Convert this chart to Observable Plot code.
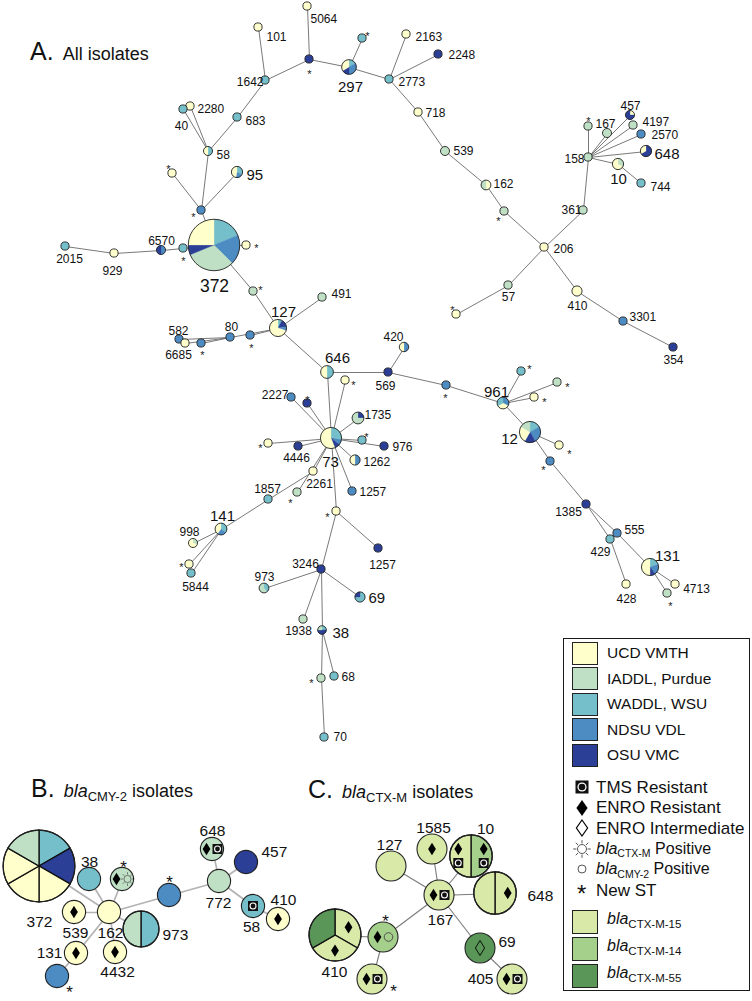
<!DOCTYPE html>
<html><head><meta charset="utf-8">
<script src="https://cdn.jsdelivr.net/npm/d3@7"></script>
<script src="https://cdn.jsdelivr.net/npm/@observablehq/plot@0.6"></script>
<style>
body{margin:0;background:#fff;font-family:"Liberation Sans",Arial,sans-serif;color:#111}
#wrap{position:relative;width:752px;height:1001px;overflow:hidden}
#wrap svg{position:absolute;left:0;top:0}
.abs{position:absolute;white-space:nowrap;line-height:1}
.sub{font-size:0.7em;position:relative;top:0.32em;font-style:normal}
</style></head>
<body><div id="wrap"></div>
<script>
// ---------- palette / categories ----------
const siteKeys = ["U","I","W","N","O"];
const siteNames = ["UCD VMTH","IADDL, Purdue","WADDL, WSU","NDSU VDL","OSU VMC"];
const siteColors = ["#ffffcc","#bfe0c4","#74bfc9","#4d8bc3","#2c3f97"];
const ctxKeys = ["C15","C14","C55"];
const ctxNames = ["CTX-M-15","CTX-M-14","CTX-M-55"];
const ctxColors = ["#d8e9a8","#a5d08b","#5b9659"];
const symbolNames = [["T","TMS Resistant"],["D","ENRO Resistant"],["I","ENRO Intermediate"],["S","CTX-M"],["C","CMY-2"],["*","New ST"]];

// ---------- panel A : all isolates  [id, x, y, size, slices(clockwise from top)] ----------
const nodesA = [
 ["5064",307,6,1,"U"],["101",258,27,1,"U"],["a1",309,59,1,"O"],["1642",265,80,1,"W"],
 ["297",349,67,3,"W*0.5 N*1 O*0.5 U*1"],["t1",362,38,1,"W"],["2773",389,79,1,"W"],
 ["2163",406,34,1,"U"],["2248",438,54,1,"O"],["718",418,112,1,"U"],["539",445,151,1.2,"I"],
 ["162",486,185,1.4,"U*1 I*1"],["g1",504,211,1,"I"],["206",544,247,1,"U"],["361",583,210,1,"I"],
 ["158",588,157,1,"I"],["g2",588,126,1,"I"],["167",607,133,1.2,"I"],["457",630,115,1.2,"U*1 O*3"],
 ["4197",633,125,1,"I"],["2570",641,134,1,"N"],["648",646,151,1.8,"O*2 U*1"],["10",618,164,1.8,"I*1 U*2"],
 ["744",641,183,1,"W"],["57",508,285,1,"I"],["c1",456,314,1,"U"],["410",577,291,1.5,"U"],
 ["3301",623,321,1,"N"],["354",673,347,1,"O"],["2280",190,106,1,"U"],["40",183,109,1,"W"],
 ["683",237,117,1,"W"],["58",208,151,1.2,"W*1 U*1"],["c2",172,173,1,"U"],["95",237,172,1.8,"W*1 N*0.6 U*1.4"],
 ["n1",201,210,1,"N"],["372",214,245,32,"W*6 N*6 I*10 O*2 U*8"],["c3",246,245,1,"U"],["t2",183,248,1,"W"],
 ["6570",161,250,1.2,"N*1 O*1"],["929",114,253,1,"U"],["2015",65,246,1,"W"],["g3",253,291,1,"I"],
 ["491",322,297,1,"I"],["127",278,328,4,"W*0.3 O*0.6 N*0.3 U*2.8"],["582",179,339,1,"N"],["6685",185,343,1,"U"],
 ["n2",201,343,1,"N"],["80",230,337,1,"N"],["n3",250,335,1,"N"],["646",327,372,2.3,"W*1 U*1"],
 ["c4",345,380,1,"U"],["420",404,347,1.3,"N*1 U*1"],["569",388,372,1,"O"],["n4",446,385,1,"N"],
 ["961",503,403,2,"N*1 U*1 W*1"],["t3",521,371,1,"W"],["g4",557,382,1,"I"],["c5",534,397,1,"U"],
 ["12",530,432,6,"W*1 N*1.5 O*1 U*1.5 I*1"],["c6",559,445,1,"U"],["n5",550,461,1,"N"],["1385",586,504,1,"O"],
 ["555",617,533,1,"N"],["429",610,539,1,"W"],["131",650,567,4,"W*0.6 N*0.6 O*0.3 U*1.5"],["428",626,584,1,"U"],
 ["4713",675,584,1,"U"],["g5",667,593,1,"I"],["2227",291,397,1,"N"],["d2",307,403,1,"O"],
 ["1735",358,418,2,"O*1 I*3"],["73",331,438,6,"W*1.4 N*0.4 O*0.4 U*2.8"],["t4",362,440,1,"W"],["976",384,446,1,"O"],
 ["c7",268,443,1,"U"],["4446",298,446,1,"O"],["1262",355,460,1.5,"N*1 U*1"],["2261",313,471,1,"U"],
 ["g6",297,492,1,"I"],["1257a",352,491,1,"N"],["1857",268,499,1,"W"],["c8",336,511,1,"U"],
 ["1257b",378,548,1,"O"],["141",221,529,2,"W*0.7 N*0.5 U*0.8"],["998",193,543,1.2,"I*0.3 U*0.7"],["c9",189,564,1,"U"],
 ["5844",191,573,1,"W"],["3246",321,569,1,"O"],["973",264,588,1.4,"W*0.4 I*0.6"],["69",360,597,1.5,"W*3 O*1"],
 ["1938",303,619,1,"I"],["38",322,630,1.1,"W*1 O*2 I*1"],["g7",321,678,1,"I"],["68",334,676,1,"W"],["70",324,737,1,"W"]
];
const edgesA = [
 ["5064","a1"],["a1","1642"],["a1","297"],["101","1642"],["1642","683"],["683","58"],["297","t1"],["297","2773"],
 ["2773","2163"],["2773","2248"],["2773","718"],["718","539"],["539","162"],["162","g1"],["g1","206"],["206","361"],
 ["361","158"],["158","g2"],["158","167"],["158","457"],["158","4197"],["158","2570"],["158","648"],["158","10"],
 ["10","744"],["206","57"],["57","c1"],["206","410"],["410","3301"],["3301","354"],["58","2280"],["58","40"],
 ["58","n1"],["n1","c2"],["n1","95"],["n1","372"],["372","c3"],["372","t2"],["t2","6570"],["6570","929"],
 ["929","2015"],["372","g3"],["g3","127"],["127","491"],["127","n3"],["127","80"],["80","582"],["80","6685"],
 ["80","n2"],["127","646"],["646","569"],["569","420"],["569","n4"],["n4","961"],["961","t3"],["961","g4"],
 ["961","c5"],["961","12"],["12","c6"],["12","n5"],["n5","1385"],["1385","555"],["1385","429"],["555","131"],
 ["429","428"],["131","4713"],["131","g5"],["646","73"],["73","c4"],["73","2227"],["73","d2"],["73","1735"],
 ["73","t4"],["73","976"],["73","c7"],["73","4446"],["73","1262"],["73","2261"],["73","g6"],["73","1257a"],
 ["73","c8"],["2261","1857"],["1857","141"],["141","998"],["141","c9"],["141","5844"],["c8","1257b"],["c8","3246"],
 ["3246","973"],["3246","69"],["3246","1938"],["3246","38"],["38","g7"],["38","68"],["g7","70"]
];
// [text, x, y, anchor, size class]
const labelsA = [
 ["5064",310,19,"start","s"],["101",266,37,"start","s"],["1642",263,82,"end","s"],["297",350,87,"middle","b"],
 ["2163",415,37,"start","s"],["2248",448,55,"start","s"],["2773",398,82,"start","s"],["718",425,113,"start","s"],
 ["539",453,151,"start","s"],["162",493,184,"start","s"],["206",553,249,"start","s"],["361",581,210,"end","s"],
 ["158",584,159,"end","s"],["167",605,124,"middle","s"],["457",630,106,"middle","s"],["4197",642,122,"start","s"],
 ["2570",651,135,"start","s"],["648",654,154,"start","b"],["10",618,179,"middle","b"],["744",650,187,"start","s"],
 ["57",508,297,"middle","s"],["410",577,306,"middle","s"],["3301",629,317,"start","s"],["354",673,360,"middle","s"],
 ["2280",197,109,"start","s"],["40",181,126,"middle","s"],["683",245,121,"start","s"],["58",216,155,"start","s"],
 ["95",246,175,"start","b"],["372",214,286,"middle","xl"],["6570",161,241,"middle","s"],["929",112,271,"middle","s"],
 ["2015",69,259,"middle","s"],["491",331,294,"start","s"],["127",283,312,"middle","b"],["582",178,331,"middle","s"],
 ["6685",178,355,"middle","s"],["80",231,327,"middle","s"],["646",337,358,"middle","b"],["420",393,337,"middle","s"],
 ["569",385,386,"middle","s"],["961",496,392,"middle","b"],["12",509,439,"middle","b"],["1385",568,512,"middle","s"],
 ["555",634,530,"middle","s"],["429",600,552,"middle","s"],["131",667,556,"middle","b"],["428",626,599,"middle","s"],
 ["4713",696,589,"middle","s"],["976",392,447,"start","s"],["2227",288,395,"end","s"],["1735",364,415,"start","s"],
 ["73",330,462,"middle","b"],["4446",296,458,"middle","s"],["1262",363,462,"start","s"],["2261",319,484,"middle","s"],
 ["1257",359,492,"start","s"],["1857",267,489,"middle","s"],["141",222,516,"middle","b"],["998",189,532,"middle","s"],
 ["5844",195,587,"middle","s"],["3246",305,564,"middle","s"],["973",264,577,"middle","s"],["1257",382,565,"middle","s"],
 ["69",368,598,"start","b"],["1938",298,631,"middle","s"],["38",332,633,"start","b"],["68",341,677,"start","s"],
 ["70",333,737,"start","s"]
];
const starsA = [[309,71],[367,33],[168,166],[193,214],[256,245],[183,258],[260,287],[202,352],[251,345],[498,218],
 [588,118],[452,307],[353,382],[307,397],[366,434],[260,445],[290,500],[327,514],[181,564],[311,680],[445,395],
 [529,366],[567,384],[544,399],[569,451],[543,467],[670,603]];

// ---------- panel B : blaCMY-2 isolates (slice "key*w:symbols") ----------
const nodesB = [
 ["372",39,866,6,"W O U U U I"],["38",89,879,1,"W"],["bs",122,879,1,"I:DS"],["162",109,912,1,"U"],
 ["539",74,912,1,"U:D"],["973",141,929,2,"W I"],["131",76,953,1,"U:D"],["4432",115,952,1,"U:D"],
 ["bn1",57,976,1,"N"],["bn2",169,895,1,"N"],["772",219,881,1,"I"],["648",212,849,1,"I:DT"],
 ["457",246,862,1,"O"],["58",253,906,1,"W:T"],["410",278,919,1,"U:D"]
];
const edgesB = [["372","162"],["38","162"],["bs","162"],["539","162"],["973","162"],["4432","162"],["131","162"],
 ["131","bn1"],["162","bn2"],["bn2","772"],["772","648"],["772","457"],["772","58"],["58","410"]];
const labelsB = [["372",39,922,"middle"],["38",89,862,"middle"],["162",110,933,"middle"],["539",75,933,"middle"],
 ["973",162,935,"start"],["131",62,953,"end"],["4432",117,972,"middle"],["772",218,903,"middle"],["648",212,831,"middle"],
 ["457",261,852,"start"],["58",251,927,"middle"],["410",283,900,"middle"]];
const starsB = [[123,863],[169,878],[69,988]];

// ---------- panel C : blaCTX-M isolates ----------
const nodesC = [
 ["127",391,866,1,"C15"],["1585",432,849,1,"C15:D"],["10",471,856,2,"C14:DT C15:DT"],["167",439,895,1,"C15:DT"],
 ["648",495,893,2,"C15:D C15"],["410",335,935,3,"C15:D C15:D C55"],["cs",383,937,1,"C14:DC"],
 ["cb",372,979,1,"C15:DT"],["69",480,948,1,"C55:I"],["405",512,979,1,"C15:DT"]
];
const edgesC = [["127","167"],["1585","167"],["10","167"],["648","167"],["167","cs"],["cs","cb"],["167","69"],["69","405"],["410","cs"]];
const labelsC = [["127",389,845,"middle"],["1585",433,828,"middle"],["10",485,829,"middle"],["167",440,920,"middle"],
 ["648",527,896,"start"],["410",334,972,"middle"],["69",498,942,"start"],["405",493,979,"end"]];
const starsC = [[385,917],[393,987]];

// ---------- helpers ----------
const COLOR = {};
siteKeys.forEach((k,i)=>COLOR[k]=siteColors[i]);
ctxKeys.forEach((k,i)=>COLOR[k]=ctxColors[i]);
const parseSlices = s => s.split(" ").map(tok => {
  const [kw, sym=""] = tok.split(":"); const [key, w="1"] = kw.split("*");
  return {key, w:+w, sym};
});
function drawSym(g, ch){
  if (ch==="D") g.append("path").attr("d","M0,-6.2L3.9,0L0,6.2L-3.9,0Z").attr("fill","#000");
  else if (ch==="I") g.append("path").attr("d","M0,-7.5L4.6,0L0,7.5L-4.6,0Z").attr("fill","none").attr("stroke","#000").attr("stroke-width",0.9);
  else if (ch==="T"){ g.append("rect").attr("x",-5).attr("y",-5).attr("width",10).attr("height",10).attr("fill","#111");
    g.append("circle").attr("r",3.5).attr("fill","#fff"); g.append("circle").attr("r",2.4).attr("fill","#111"); }
  else if (ch==="S"){ g.append("circle").attr("r",3.6).attr("fill","none").attr("stroke","#555").attr("stroke-width",0.8);
    for (let k=0;k<8;k++){ const a=k*Math.PI/4; g.append("line").attr("x1",4.6*Math.cos(a)).attr("y1",4.6*Math.sin(a))
      .attr("x2",6.8*Math.cos(a)).attr("y2",6.8*Math.sin(a)).attr("stroke","#555").attr("stroke-width",0.8); } }
  else if (ch==="C") g.append("circle").attr("r",4.3).attr("fill","none").attr("stroke","#444").attr("stroke-width",0.9);
}
function placeSyms(g, syms, cx, cy, vertical){
  const k = syms.length, step = vertical ? 14 : 11;
  [...syms].forEach((ch,i)=>{
    const o = (i-(k-1)/2)*step;
    drawSym(g.append("g").attr("transform",`translate(${cx+(vertical?0:o)},${cy+(vertical?o:0)})`), ch);
  });
}
function pieMark(nodes, rOf, divider, strokeW){
  return (index, scales) => {
    const root = d3.create("svg:g");
    for (const [id,x,y,n,spec] of nodes){
      const r = rOf(n), sl = parseSlices(spec);
      const g = root.append("g").attr("transform",`translate(${scales.x(x)},${scales.y(y)})`);
      if (sl.length===1){
        g.append("circle").attr("r",r).attr("fill",COLOR[sl[0].key]);
        if (sl[0].sym) placeSyms(g, sl[0].sym, 0, 0, false);
      } else {
        const arcs = d3.pie().sort(null).value(d=>d.w)(sl);
        const arc = d3.arc().innerRadius(0).outerRadius(r);
        g.selectAll("path.s").data(arcs).join("path").attr("class","s").attr("d",arc)
          .attr("fill",d=>COLOR[d.data.key])
          .attr("stroke",d=>divider?"#111":COLOR[d.data.key]).attr("stroke-width",divider?1.3:0.3);
        const carc = d3.arc().innerRadius(0).outerRadius(r*1.2);
        arcs.forEach(d=>{ if (d.data.sym){ const [px,py]=carc.centroid(d); placeSyms(g,d.data.sym,px,py,d.data.sym.length>1); }});
      }
      g.append("circle").attr("r",r).attr("fill","none").attr("stroke","#222").attr("stroke-width",strokeW);
    }
    return root.node();
  };
}
const rA = d3.scalePow().exponent(0.53).domain([0,1]).range([0,4.1]);
const rB = d3.scalePow().exponent(0.63).domain([0,1]).range([0,11.6]);
const rC = d3.scalePow().exponent(0.5).domain([0,1]).range([0,15]);

function linksOf(nodes, edges){
  const m = new Map(nodes.map(d=>[d[0],d]));
  return edges.map(([a,b])=>({x1:m.get(a)[1],y1:m.get(a)[2],x2:m.get(b)[1],y2:m.get(b)[2]}));
}
const sizeA = {s:12, b:15, xl:17.5};
const textMarks = [];
for (const anchor of ["start","middle","end"]){
  for (const sz of Object.keys(sizeA)){
    const data = labelsA.filter(d=>d[3]===anchor && d[4]===sz);
    if (data.length) textMarks.push(Plot.text(data,{x:d=>d[1],y:d=>d[2],text:d=>d[0],textAnchor:anchor,fontSize:sizeA[sz],fill:"#111"}));
  }
  const bc = labelsB.concat(labelsC).filter(d=>d[3]===anchor);
  if (bc.length) textMarks.push(Plot.text(bc,{x:d=>d[1],y:d=>d[2],text:d=>d[0],textAnchor:anchor,fontSize:15.5,fill:"#111"}));
}

const plot = Plot.plot({
  width:752, height:1001, margin:0,
  x:{domain:[0,752], range:[0,752], axis:null},
  y:{domain:[0,1001], range:[0,1001], axis:null},
  style:{fontFamily:"'Liberation Sans', Arial, sans-serif", background:"transparent", overflow:"visible"},
  marks:[
    Plot.link(linksOf(nodesA,edgesA),{x1:"x1",y1:"y1",x2:"x2",y2:"y2",stroke:"#6a6a6a",strokeWidth:0.9}),
    Plot.link(linksOf(nodesB,edgesB),{x1:"x1",y1:"y1",x2:"x2",y2:"y2",stroke:"#b3b3b3",strokeWidth:1.7}),
    Plot.link(linksOf(nodesC,edgesC),{x1:"x1",y1:"y1",x2:"x2",y2:"y2",stroke:"#7a7a7a",strokeWidth:1.1}),
    pieMark(nodesA, rA, false, 0.9),
    pieMark(nodesB, rB, true, 1.1),
    pieMark(nodesC, rC, true, 1.1),
    ...textMarks,
    Plot.text(starsA,{x:d=>d[0],y:d=>d[1],text:()=>"*",fontSize:11,dy:3,fill:"#222"}),
    Plot.text(starsB.concat(starsC),{x:d=>d[0],y:d=>d[1],text:()=>"*",fontSize:17,dy:4,fill:"#111"})
  ]
});
const wrap = document.getElementById("wrap");
wrap.appendChild(plot);

// ---------- titles & legend (HTML) ----------
function addDiv(html, left, baseline, fs, extra=""){
  const d = document.createElement("div");
  d.className = "abs";
  d.style.cssText = `left:${left}px;top:${baseline-0.85*fs}px;font-size:${fs}px;${extra}`;
  d.innerHTML = html; wrap.appendChild(d); return d;
}
addDiv(`A.<span style="font-size:18px;margin-left:9px">All isolates</span>`, 30, 60, 25);
addDiv(`B.<span style="font-size:18px;margin-left:9px"><i>bla</i><span class="sub" style="font-size:13px">CMY-2</span> isolates</span>`, 31, 797, 25);
addDiv(`C.<span style="font-size:18px;margin-left:9px"><i>bla</i><span class="sub" style="font-size:13px">CTX-M</span> isolates</span>`, 308, 798, 25);

const box = document.createElement("div");
box.style.cssText = "position:absolute;left:563px;top:638px;width:187px;height:353px;border:1.5px solid #1a1a1a;box-sizing:border-box";
wrap.appendChild(box);
function swatch(color, cy, h){
  const s = document.createElement("div");
  s.style.cssText = `position:absolute;left:572px;top:${cy-h/2}px;width:26px;height:${h}px;background:${color};border:1.5px solid #222;box-sizing:border-box`;
  wrap.appendChild(s);
}
siteNames.forEach((name,i)=>{ const cy = 653 + i*25.5; swatch(siteColors[i], cy, 23); addDiv(name, 607, cy+5.5, 15.5); });
ctxNames.forEach((name,i)=>{ const cy = 922 + i*27; swatch(ctxColors[i], cy, 24);
  addDiv(`<i>bla</i><span class="sub" style="font-size:11.5px">${name}</span>`, 607, cy+3, 16); });
symbolNames.forEach(([k,name],i)=>{
  const cy = 787 + i*20.6;
  if (k==="*"){
    addDiv("*", 577, cy+12, 24);
    addDiv(name, 596, cy+6, 17);
    return;
  }
  const svg = d3.create("svg").attr("width",24).attr("height",22)
    .style("position","absolute").style("left","571px").style("top",(cy-11)+"px");
  const g = svg.append("g").attr("transform","translate(11,11)");
  if (k==="T"){ g.append("rect").attr("x",-6.5).attr("y",-6.5).attr("width",13).attr("height",13).attr("fill","#111");
    g.append("circle").attr("r",4.6).attr("fill","#fff"); g.append("circle").attr("r",3.3).attr("fill","#111"); }
  else if (k==="D") g.append("path").attr("d","M0,-8L5.6,0L0,8L-5.6,0Z").attr("fill","#000");
  else if (k==="I") g.append("path").attr("d","M0,-8L5.6,0L0,8L-5.6,0Z").attr("fill","#fff").attr("stroke","#000").attr("stroke-width",1.2);
  else if (k==="S"){ g.append("circle").attr("r",4.5).attr("fill","none").attr("stroke","#444").attr("stroke-width",0.9);
    for (let j=0;j<8;j++){ const a=j*Math.PI/4; g.append("line").attr("x1",5.6*Math.cos(a)).attr("y1",5.6*Math.sin(a))
      .attr("x2",8.8*Math.cos(a)).attr("y2",8.8*Math.sin(a)).attr("stroke","#444").attr("stroke-width",0.9); } }
  else if (k==="C") g.append("circle").attr("r",4).attr("fill","none").attr("stroke","#444").attr("stroke-width",0.9);
  wrap.appendChild(svg.node());
  if (k==="S"||k==="C") addDiv(`<i>bla</i><span class="sub" style="font-size:10.5px">${name}</span> Positive`, 596, cy+5.5, 16);
  else addDiv(name, 596, cy+6, 17);
});
</script></body></html>
